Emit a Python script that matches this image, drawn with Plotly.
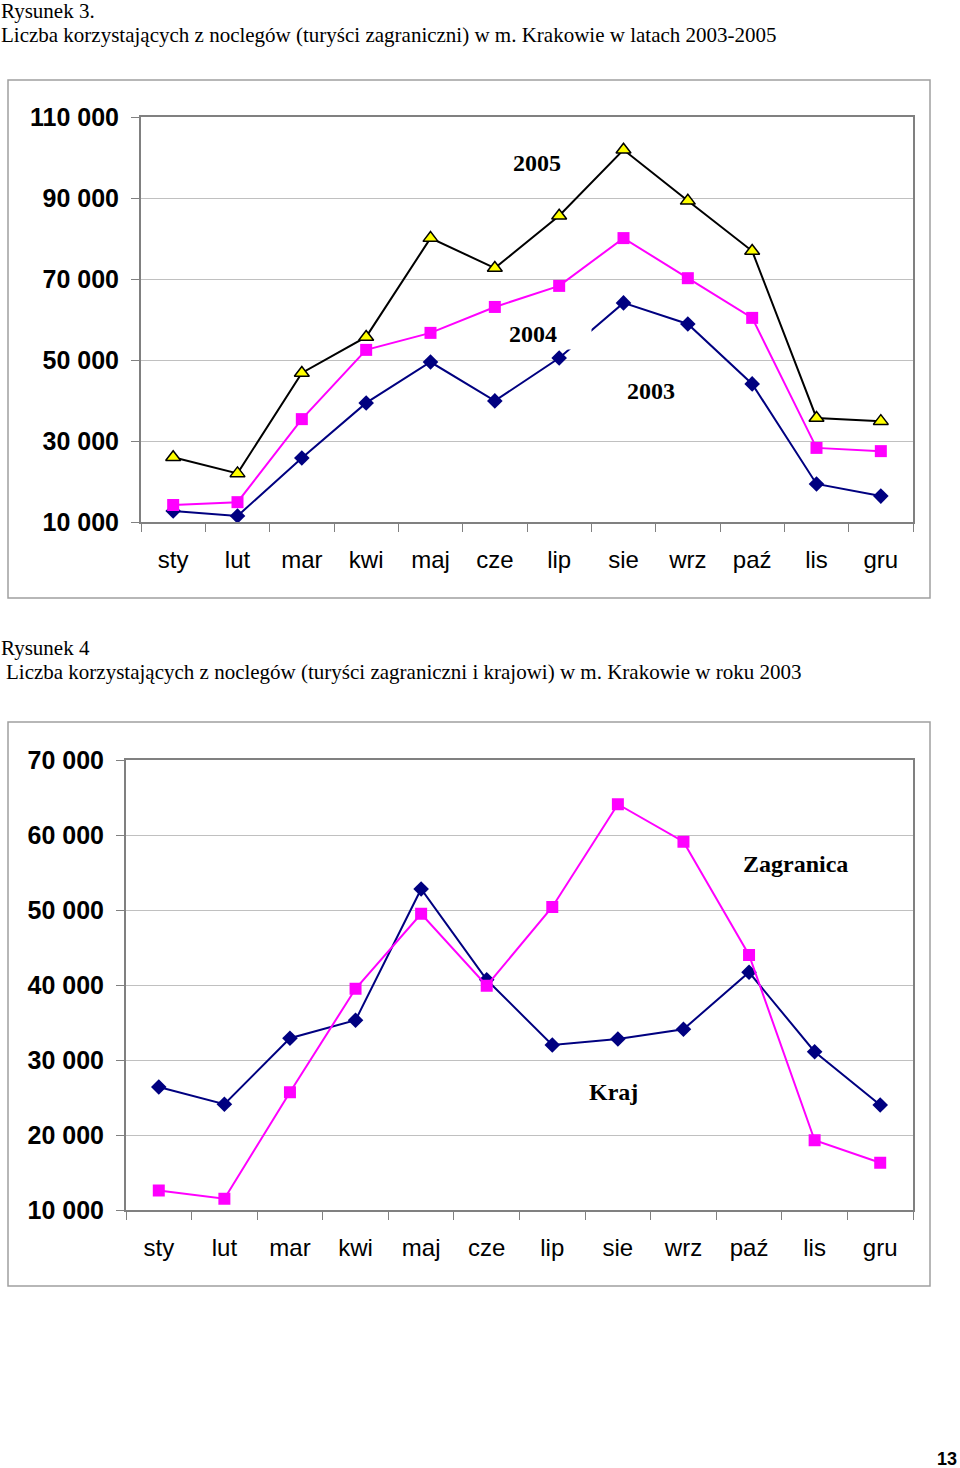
import plotly.graph_objects as go

W, H = 960, 1468

months = ["sty", "lut", "mar", "kwi", "maj", "cze", "lip", "sie", "wrz", "paź", "lis", "gru"]

# Rysunek 3 – turyści zagraniczni 2003-2005
y2005 = [26000, 22000, 46800, 55700, 80100, 72700, 85600, 101900, 89300, 76900, 35700, 34900]
y2004 = [14200, 14900, 35400, 52500, 56700, 63100, 68300, 80100, 70200, 60400, 28300, 27500]
y2003 = [12700, 11500, 25800, 39400, 49500, 39900, 50500, 64100, 58900, 44100, 19400, 16400]

# Rysunek 4 – rok 2003
zagranica = [12600, 11500, 25700, 39500, 49500, 39900, 50400, 64100, 59100, 44000, 19300, 16300]
kraj = [26400, 24100, 32900, 35300, 52800, 40700, 32000, 32800, 34100, 41700, 31100, 24000]

ticks1 = [10000, 30000, 50000, 70000, 90000, 110000]
ticks1_text = ["10 000", "30 000", "50 000", "70 000", "90 000", "110 000"]
ticks2 = [10000, 20000, 30000, 40000, 50000, 60000, 70000]
ticks2_text = ["10 000", "20 000", "30 000", "40 000", "50 000", "60 000", "70 000"]

NAVY = "#000080"
MAG = "#ff00ff"


def px(x):
    return x / W


def py(y):
    return 1 - y / H


fig = go.Figure()

# Chart 1
fig.add_trace(go.Scatter(x=months, y=y2003, mode="lines+markers", xaxis="x", yaxis="y",
                         line=dict(color=NAVY, width=2),
                         marker=dict(symbol="diamond", size=12, color=NAVY)))
fig.add_trace(go.Scatter(x=months, y=y2004, mode="lines+markers", xaxis="x", yaxis="y",
                         line=dict(color=MAG, width=2),
                         marker=dict(symbol="square", size=12, color=MAG)))
fig.add_trace(go.Scatter(x=months, y=y2005, mode="lines+markers", xaxis="x", yaxis="y",
                         line=dict(color="black", width=2),
                         marker=dict(symbol="triangle-up", size=13, color="#ffff00",
                                     line=dict(color="black", width=1.5))))

# Chart 2
fig.add_trace(go.Scatter(x=months, y=kraj, mode="lines+markers", xaxis="x2", yaxis="y2",
                         line=dict(color=NAVY, width=2),
                         marker=dict(symbol="diamond", size=12, color=NAVY)))
fig.add_trace(go.Scatter(x=months, y=zagranica, mode="lines+markers", xaxis="x2", yaxis="y2",
                         line=dict(color=MAG, width=2),
                         marker=dict(symbol="square", size=12, color=MAG)))

axis_common = dict(showline=True, mirror=True, linecolor="#808080", linewidth=2,
                   ticks="outside", tickcolor="#808080", ticklen=8, tickwidth=1,
                   automargin=False, fixedrange=True)

xfont = dict(family="Liberation Sans, Arial", size=24, color="black")
yfont = dict(family="Liberation Sans, Arial", size=25, color="black", weight="bold")

fig.update_layout(
    width=W, height=H,
    margin=dict(l=0, r=0, t=0, b=0, pad=0),
    paper_bgcolor="white", plot_bgcolor="white",
    showlegend=False,
    hovermode=False,
    xaxis=dict(domain=[px(141), px(913)], anchor="y", type="category",
               range=[-0.5, 11.5], tickson="boundaries", showgrid=False, tickfont=xfont,
               ticklabelstandoff=15, **axis_common),
    yaxis=dict(domain=[py(522), py(117)], anchor="x", range=[10000, 110000],
               tickvals=ticks1, ticktext=ticks1_text, showgrid=True,
               gridcolor="#c0c0c0", gridwidth=1, tickfont=yfont,
               ticklabelstandoff=7, **axis_common),
    xaxis2=dict(domain=[px(126), px(913)], anchor="y2", type="category",
                range=[-0.5, 11.5], tickson="boundaries", showgrid=False, tickfont=xfont,
                ticklabelstandoff=15, **axis_common),
    yaxis2=dict(domain=[py(1210), py(760)], anchor="x2", range=[10000, 70000],
                tickvals=ticks2, ticktext=ticks2_text, showgrid=True,
                gridcolor="#c0c0c0", gridwidth=1, tickfont=yfont,
                ticklabelstandoff=7, **axis_common),
)

# Outer frames
for (y0, y1) in [(80, 598), (722, 1286)]:
    fig.add_shape(type="rect", xref="paper", yref="paper",
                  x0=px(8), x1=px(930), y0=py(y1), y1=py(y0),
                  line=dict(color="#a0a0a0", width=1.5), fillcolor="rgba(0,0,0,0)",
                  layer="below")

serif = "Liberation Serif, Times New Roman"
titles = [
    ("Rysunek 3.", 0, 11),
    ("Liczba korzystających z noclegów (turyści zagraniczni) w m. Krakowie w latach 2003-2005", 0, 35),
    ("Rysunek 4", 0, 648),
    ("Liczba korzystających z noclegów (turyści zagraniczni i krajowi) w m. Krakowie w roku 2003", 5, 672),
]
for text, x, y in titles:
    fig.add_annotation(text=text, xref="paper", yref="paper", x=px(x), y=py(y),
                       xanchor="left", yanchor="middle", showarrow=False, borderpad=0,
                       font=dict(family=serif, size=21, color="black"))

labels = [
    ("<b>2005</b>", 537, 163),
    ("<b>2003</b>", 651, 391),
    ("<b>Zagranica</b>", 795, 864),
    ("<b>Kraj</b>", 613, 1092),
]
for text, x, y in labels:
    fig.add_annotation(text=text, xref="paper", yref="paper", x=px(x), y=py(y),
                       xanchor="center", yanchor="middle", showarrow=False,
                       font=dict(family=serif, size=24, color="black"))

# 2004 label with white box (masks part of the 2003 line as in the original)
fig.add_annotation(text="<b>2004</b>", xref="paper", yref="paper", x=px(508), y=py(334),
                   xanchor="left", yanchor="middle", showarrow=False, width=82, height=30,
                   align="left", bgcolor="white", borderpad=0,
                   font=dict(family=serif, size=24, color="black"))

fig.add_annotation(text="<b>13</b>", xref="paper", yref="paper", x=px(947), y=py(1459),
                   xanchor="center", yanchor="middle", showarrow=False, borderpad=0,
                   font=dict(family="Liberation Sans, Arial", size=18, color="black"))

fig.write_html("out.html", config={"displayModeBar": False, "staticPlot": True},
               post_script="document.body.style.margin='0';")
